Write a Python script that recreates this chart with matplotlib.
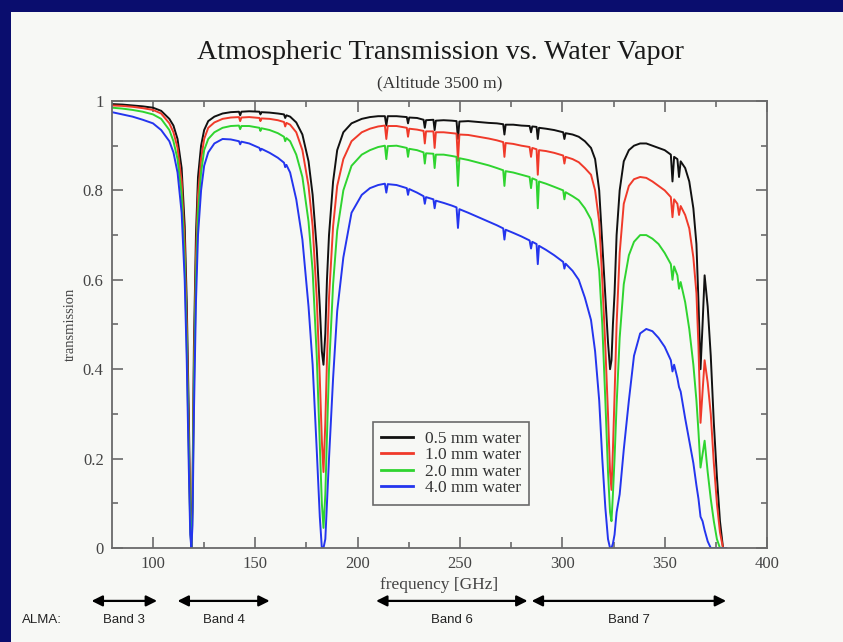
import matplotlib
matplotlib.use("Agg")
import matplotlib.pyplot as plt
import matplotlib.patches as patches
import matplotlib.transforms as transforms
from matplotlib.ticker import MultipleLocator, FuncFormatter

# frequency grid [GHz]
freq = [
    80, 85, 90, 95, 100, 104, 108, 110, 112, 114,
    115.5, 116.5, 117.5, 118.2, 118.75, 119.3, 120, 121, 122, 123.5,
    125, 127, 130, 134, 138, 142, 142.6, 143.2, 147, 152,
    152.5, 153, 157, 161, 164, 164.6, 165.2, 167, 170, 173,
    176, 178, 180, 181.5, 182.5, 183.3, 184.2, 185, 186, 188,
    190, 193, 197, 202, 206, 210, 213.3, 214, 214.7, 219,
    224, 224.6, 225.2, 229, 232.2, 232.8, 233.4, 237, 237.6, 238.2,
    242, 246, 248.3, 249, 249.7, 254, 259, 264, 268, 271.1,
    271.7, 272.3, 276, 280, 284, 284.7, 285.3, 287.4, 288, 288.6,
    292, 296, 300.4, 301, 301.6, 305, 308, 311, 314, 316,
    318, 319.5, 321, 322.3, 323.3, 324, 324.7, 325.5, 326.5, 328,
    330, 332.5, 335, 338, 341, 344, 347, 350, 353, 353.8,
    354.6, 356.2, 357, 357.8, 360, 362, 364, 365.5, 366.5, 367.5,
    368.5, 369.5, 371, 372.5, 374, 375.5, 377, 378.5, 380,
]

# transmission, 0.5 mm water
trans_05 = [
    0.993, 0.992, 0.990, 0.988, 0.985, 0.978, 0.960, 0.945, 0.915, 0.850,
    0.72, 0.55, 0.30, 0.08, 0.0, 0.12, 0.45, 0.70, 0.83, 0.90,
    0.935, 0.955, 0.965, 0.972, 0.975, 0.976, 0.968, 0.976, 0.977, 0.976,
    0.970, 0.975, 0.974, 0.972, 0.970, 0.962, 0.968, 0.965, 0.952, 0.925,
    0.865, 0.79, 0.67, 0.54, 0.44, 0.41, 0.48, 0.60, 0.70, 0.82,
    0.89, 0.93, 0.95, 0.96, 0.964, 0.966, 0.966, 0.945, 0.966, 0.966,
    0.964, 0.950, 0.963, 0.962, 0.958, 0.940, 0.957, 0.958, 0.935, 0.956,
    0.957, 0.956, 0.955, 0.915, 0.954, 0.955, 0.953, 0.951, 0.950, 0.948,
    0.925, 0.947, 0.947, 0.945, 0.944, 0.930, 0.943, 0.942, 0.915, 0.940,
    0.938, 0.935, 0.930, 0.915, 0.928, 0.925, 0.920, 0.910, 0.895, 0.870,
    0.80, 0.68, 0.56, 0.46, 0.40, 0.42, 0.50, 0.57, 0.70, 0.80,
    0.865, 0.89, 0.90, 0.905, 0.905, 0.90, 0.895, 0.89, 0.88, 0.82,
    0.875, 0.87, 0.83, 0.865, 0.85, 0.82, 0.76, 0.68, 0.55, 0.40,
    0.50, 0.61, 0.54, 0.43, 0.28, 0.16, 0.06, 0.0, 0.0,
]

# transmission, 1.0 mm water
trans_10 = [
    0.990, 0.989, 0.987, 0.984, 0.980, 0.972, 0.950, 0.930, 0.895, 0.820,
    0.68, 0.50, 0.25, 0.06, 0.0, 0.10, 0.40, 0.65, 0.79, 0.87,
    0.915, 0.940, 0.952, 0.960, 0.963, 0.964, 0.955, 0.963, 0.964, 0.962,
    0.955, 0.961, 0.960, 0.957, 0.953, 0.943, 0.951, 0.947, 0.930, 0.890,
    0.81, 0.72, 0.56, 0.38, 0.24, 0.17, 0.28, 0.42, 0.56, 0.72,
    0.81, 0.87, 0.91, 0.93, 0.938, 0.943, 0.945, 0.915, 0.944, 0.944,
    0.940, 0.920, 0.938, 0.936, 0.933, 0.905, 0.932, 0.932, 0.895, 0.930,
    0.930, 0.928, 0.927, 0.866, 0.925, 0.924, 0.920, 0.916, 0.912, 0.908,
    0.875, 0.906, 0.904, 0.900, 0.897, 0.875, 0.895, 0.892, 0.835, 0.890,
    0.888, 0.884, 0.878, 0.860, 0.875, 0.870, 0.863, 0.850, 0.835, 0.800,
    0.73, 0.60, 0.45, 0.30, 0.17, 0.13, 0.22, 0.34, 0.50, 0.66,
    0.77, 0.81, 0.825, 0.83, 0.828, 0.82, 0.81, 0.80, 0.785, 0.74,
    0.78, 0.77, 0.745, 0.765, 0.745, 0.715, 0.65, 0.57, 0.45, 0.28,
    0.35, 0.42, 0.37, 0.30, 0.19, 0.10, 0.035, 0.0, 0.0,
]

# transmission, 2.0 mm water
trans_20 = [
    0.985, 0.983, 0.980, 0.976, 0.970, 0.960, 0.935, 0.910, 0.870, 0.790,
    0.64, 0.46, 0.22, 0.05, 0.0, 0.08, 0.36, 0.60, 0.75, 0.84,
    0.89, 0.915, 0.93, 0.94, 0.944, 0.945, 0.937, 0.944, 0.944, 0.940,
    0.933, 0.939, 0.935, 0.928, 0.920, 0.910, 0.917, 0.910, 0.880, 0.830,
    0.73, 0.62, 0.43, 0.23, 0.10, 0.045, 0.12, 0.25, 0.40, 0.59,
    0.71, 0.80, 0.855, 0.88, 0.89, 0.897, 0.90, 0.87, 0.899, 0.90,
    0.895, 0.875, 0.893, 0.89, 0.885, 0.86, 0.883, 0.882, 0.85, 0.88,
    0.88, 0.877, 0.875, 0.81, 0.872, 0.868, 0.862, 0.856, 0.85, 0.845,
    0.81, 0.843, 0.84, 0.835, 0.83, 0.805, 0.827, 0.823, 0.76, 0.82,
    0.815, 0.808, 0.80, 0.78, 0.796, 0.787, 0.778, 0.76, 0.735, 0.69,
    0.62, 0.50, 0.33, 0.17, 0.08, 0.06, 0.12, 0.20, 0.32, 0.47,
    0.59, 0.655, 0.685, 0.70, 0.70, 0.692, 0.68, 0.66, 0.635, 0.60,
    0.63, 0.61, 0.58, 0.595, 0.55, 0.49, 0.41, 0.33, 0.26, 0.18,
    0.21, 0.24, 0.17, 0.11, 0.06, 0.02, 0.0, 0.0, 0.0,
]

# transmission, 4.0 mm water
trans_40 = [
    0.975, 0.970, 0.965, 0.958, 0.950, 0.935, 0.910, 0.885, 0.840, 0.750,
    0.60, 0.42, 0.18, 0.03, 0.0, 0.05, 0.30, 0.55, 0.70, 0.80,
    0.855, 0.885, 0.905, 0.915, 0.914, 0.910, 0.903, 0.909, 0.905, 0.895,
    0.889, 0.893, 0.884, 0.873, 0.862, 0.852, 0.857, 0.840, 0.780, 0.690,
    0.54, 0.41, 0.22, 0.07, 0.0, 0.0, 0.02, 0.10, 0.20, 0.38,
    0.53, 0.65, 0.75, 0.79, 0.805, 0.812, 0.815, 0.795, 0.814, 0.812,
    0.805, 0.79, 0.803, 0.795, 0.787, 0.77, 0.785, 0.78, 0.76, 0.777,
    0.772, 0.766, 0.762, 0.716, 0.758, 0.75, 0.74, 0.73, 0.722, 0.715,
    0.69, 0.712, 0.705, 0.697, 0.688, 0.67, 0.685, 0.68, 0.635, 0.676,
    0.667, 0.655, 0.64, 0.625, 0.636, 0.62, 0.60, 0.56, 0.51, 0.44,
    0.33, 0.20, 0.09, 0.02, 0.0, 0.0, 0.01, 0.03, 0.08, 0.12,
    0.22, 0.33, 0.43, 0.48, 0.49, 0.485, 0.47, 0.45, 0.42, 0.395,
    0.41, 0.38, 0.36, 0.35, 0.29, 0.24, 0.19, 0.14, 0.11, 0.07,
    0.06, 0.04, 0.015, 0.0, 0.0, 0.0, 0.0, 0.0, 0.0,
]

series_labels = ["0.5 mm water", "1.0 mm water", "2.0 mm water", "4.0 mm water"]
series_colors = ["#111111", "#f03a2a", "#2fd42f", "#2435ee"]

# ALMA bands as drawn under the axis (GHz)
band_names = ["Band 3", "Band 4", "Band 6", "Band 7"]
band_lo = [70, 112, 209, 285]
band_hi = [102, 157, 283, 380]

serif = "Liberation Serif"
gray = "#6a6a6a"

fig = plt.figure(figsize=(8.43, 6.42), dpi=100, facecolor="#0a0d6e")
# slide area
fig.patches.append(patches.Rectangle((11 / 843, 0), 1, 1 - 12 / 642,
                                     transform=fig.transFigure,
                                     facecolor="#f7f8f5", edgecolor="none",
                                     zorder=-10))

ax = fig.add_axes([0.1329, 0.1464, 0.777, 0.6963])
ax.set_facecolor("#f7f8f5")

for vals, lab, col in zip([trans_05, trans_10, trans_20, trans_40],
                          series_labels, series_colors):
    ax.plot(freq, vals, color=col, lw=1.4, label=lab)

ax.set_xlim(80, 400)
ax.set_ylim(0, 1)
ax.xaxis.set_major_locator(MultipleLocator(50))
ax.xaxis.set_minor_locator(MultipleLocator(25))
ax.yaxis.set_major_locator(MultipleLocator(0.2))
ax.yaxis.set_minor_locator(MultipleLocator(0.1))
ax.yaxis.set_major_formatter(FuncFormatter(lambda v, p: "%g" % v))
ax.tick_params(which="both", direction="in", top=True, right=True,
               color=gray, width=1.2, labelcolor="#444444")
ax.tick_params(which="major", length=8, labelsize=12, pad=6)
ax.tick_params(which="minor", length=4)
for lbl in ax.get_xticklabels() + ax.get_yticklabels():
    lbl.set_fontfamily(serif)
for sp in ax.spines.values():
    sp.set_color(gray)
    sp.set_linewidth(1.3)

ax.set_xlabel("frequency [GHz]", fontfamily=serif, fontsize=12.5,
              color="#444444", labelpad=3)
ax.set_ylabel("transmission", fontfamily=serif, fontsize=10.5,
              color="#444444", labelpad=4)

leg = ax.legend(loc="lower left", bbox_to_anchor=(0.398, 0.096),
                borderaxespad=0,
                prop={"family": serif, "size": 12.5}, fancybox=False,
                handlelength=1.8, handletextpad=0.7, labelspacing=0.02,
                borderpad=0.5, framealpha=1)
leg.get_frame().set_edgecolor(gray)
leg.get_frame().set_linewidth(1.2)
leg.get_frame().set_facecolor("#f7f8f5")
for line in leg.get_lines():
    line.set_linewidth(2.0)
for t in leg.get_texts():
    t.set_color("#333333")

fig.text(0.522, 0.918, "Atmospheric Transmission vs. Water Vapor",
         ha="center", va="center", fontfamily=serif, fontsize=20.2,
         color="#1a1a1a")
fig.text(0.522, 0.870, "(Altitude 3500 m)", ha="center", va="center",
         fontfamily=serif, fontsize=12.5, color="#333333")

# ALMA band arrows below the axis
tr = transforms.blended_transform_factory(ax.transData, fig.transFigure)
for name, lo, hi in zip(band_names, band_lo, band_hi):
    ax.annotate("", xy=(hi, 0.064), xytext=(lo, 0.064), xycoords=tr,
                textcoords=tr, annotation_clip=False,
                arrowprops=dict(arrowstyle="<|-|>", color="black", lw=1.6,
                                mutation_scale=16, shrinkA=0, shrinkB=0))
    ax.text((lo + hi) / 2, 0.035, name, transform=tr, ha="center",
            va="center", fontfamily="Liberation Sans", fontsize=9.5,
            color="#222222")
fig.text(0.05, 0.035, "ALMA:", ha="center", va="center",
         fontfamily="Liberation Sans", fontsize=9.5, color="#222222")

fig.savefig("out.png", dpi=100, facecolor=fig.get_facecolor())
